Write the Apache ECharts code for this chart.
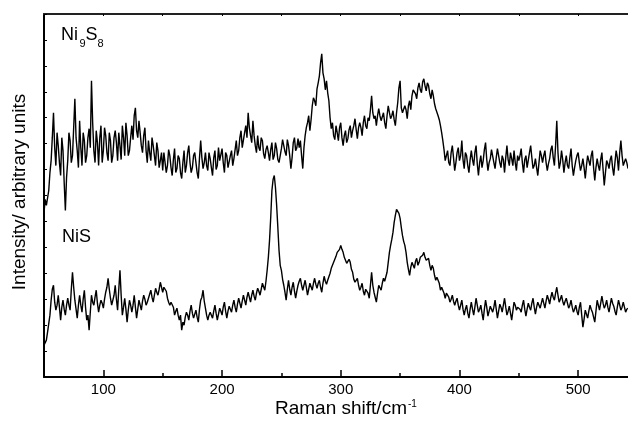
<!DOCTYPE html>
<html><head><meta charset="utf-8">
<script src="https://cdn.jsdelivr.net/npm/echarts@6/dist/echarts.min.js"></script>
<style>html,body{margin:0;padding:0;background:#fff}#c{width:628px;height:424px}</style>
</head><body><div id="c"></div>
<script>
// Raman shift sampling grid (cm^-1): even points start at 50, odd points at 51, both every 2
const shiftStartEven = 50;
const shiftStartOdd = 51;
const shiftStep = 2;
// Ni9S8 intensity (arbitrary units, offset spectrum) at 50,52,...,542
const ni9s8Even = [
165,172,187,217,265,212,232,202,227,167,
217,237,222,279,227,257,212,237,222,249,
297,227,247,212,252,227,242,217,237,222,
247,217,232,252,222,242,227,252,262,247,
257,232,242,227,237,217,232,212,227,217,
207,227,212,222,202,229,209,219,199,227,
212,232,205,222,215,199,237,209,225,207,
219,202,227,212,217,229,205,222,209,227,
219,237,227,247,232,252,265,242,257,232,
242,227,237,219,232,217,235,222,229,215,
229,237,222,232,209,235,227,239,237,209,
242,255,247,272,277,289,302,324,299,297,
277,249,242,252,237,255,232,247,239,252,
247,259,239,255,242,262,249,257,282,259,
252,269,257,265,249,272,259,267,252,275,
297,265,272,259,277,282,289,279,295,285,
299,287,292,279,282,269,262,252,237,217,
227,212,232,207,225,217,237,209,222,205,
227,212,232,202,222,217,235,207,219,227,
209,229,215,222,205,232,212,219,227,207,
217,229,205,222,212,232,209,219,202,227,
215,227,207,219,232,212,257,209,227,205,
222,209,229,202,217,225,207,219,199,222,
212,227,197,219,207,225,192,217,209,222,
202,227,207,237,212,219,209
];
// Ni9S8 at 51,53,...,541
const ni9s8Odd = [
178,170,205,240,230,245,215,240,195,200,
245,215,250,240,210,230,245,215,240,230,
255,215,235,240,215,250,225,245,215,240,
235,245,218,240,255,222,240,238,270,240,
245,225,250,215,225,240,222,235,210,225,
225,205,228,210,218,205,222,205,215,205,
225,215,210,225,205,220,220,215,212,225,
210,220,208,230,215,215,225,210,222,212,
228,222,240,230,245,240,250,235,242,225,
230,240,224,228,225,228,218,235,218,222,
238,226,238,222,220,240,230,230,222,230,
250,262,258,280,272,295,315,305,288,285,
260,255,238,245,250,240,242,235,248,240,
252,248,250,250,255,252,260,268,265,262,
262,262,258,255,262,265,262,258,265,290,
270,265,268,272,268,288,284,290,288,296,
292,295,284,288,274,270,258,245,228,222,
215,225,220,215,230,222,218,225,212,218,
218,225,214,215,210,228,218,215,228,215,
220,222,210,218,220,218,225,212,215,222,
222,215,218,210,225,220,212,210,215,222,
222,215,214,228,220,232,225,215,218,215,
212,220,212,210,222,215,212,210,212,220,
222,210,210,212,218,208,205,214,218,210,
215,220,225,222,210,215
];
// NiS intensity at 50,52,...,542
const nisEven = [
32,37,47,77,92,67,82,57,77,62,
79,67,105,77,59,82,65,87,57,47,
82,72,87,65,77,69,85,99,79,72,
92,67,107,62,79,55,77,65,82,59,
77,67,82,72,79,87,75,89,82,95,
85,92,79,72,77,62,69,57,47,52,
65,57,72,59,67,55,77,87,69,57,
65,59,72,57,69,62,75,59,71,65,
77,65,79,69,82,72,85,75,87,77,
89,82,94,87,107,137,187,202,172,127,
107,92,77,97,82,95,79,92,99,87,
97,82,94,87,99,89,97,85,101,93,
99,109,115,121,127,132,125,119,112,115,
105,95,99,87,94,82,90,79,105,85,
75,92,87,99,95,115,132,145,162,169,
159,142,132,115,102,115,109,119,115,122,
125,117,119,107,109,97,101,87,92,79,
85,75,82,72,79,67,77,62,72,59,
75,62,79,65,72,57,77,61,71,65,
77,59,73,65,79,62,71,57,75,67,
72,65,77,61,74,67,79,63,75,69,
79,69,82,73,85,77,90,75,82,72,
79,69,77,65,72,62,75,50,67,59,
72,65,55,77,67,81,69,77,65,79,
71,62,77,67,75,65,69
];
// NiS at 51,53,...,541
const nisOdd = [
30,45,62,88,75,72,70,70,68,72,
72,88,90,68,72,72,78,70,62,65,
75,80,74,72,74,78,90,88,72,82,
78,88,82,70,68,67,72,72,70,68,
72,76,78,75,83,80,82,85,88,90,
90,86,75,75,70,66,62,62,55,60,
62,66,64,63,60,68,80,76,62,62,
62,66,64,63,66,70,66,66,68,72,
70,73,74,76,77,80,80,82,81,84,
86,88,92,96,120,160,198,190,150,112,
98,85,88,88,90,86,86,96,92,92,
90,88,92,94,93,94,90,94,96,97,
104,112,118,125,128,128,120,114,118,108,
98,96,92,90,86,88,84,92,92,80,
84,90,94,96,105,125,138,155,168,164,
150,136,125,108,110,112,116,112,120,122,
120,115,112,112,102,100,94,90,84,84,
80,78,76,76,72,72,68,68,64,68,
68,70,72,68,64,68,70,66,68,70,
68,66,70,72,70,66,64,66,72,70,
68,72,68,68,70,74,70,70,72,74,
74,76,78,80,80,84,82,78,76,76,
74,72,70,68,66,70,62,58,63,66,
68,60,66,72,74,74,72,70,72,74,
66,70,72,70,70,68
];
const xTickLabels = [100, 200, 300, 400, 500];
const xMinorTicks = [150, 250, 350, 450];
const xTopTicks = [100, 150, 200, 250, 300, 350, 400, 450, 500];
const xMin = 50, xMax = 542;

function merge(evenArr, oddArr) {
  const pts = evenArr.map((v, i) => [shiftStartEven + i * shiftStep, v])
    .concat(oddArr.map((v, i) => [shiftStartOdd + i * shiftStep, v]));
  pts.sort((a, b) => a[0] - b[0]);
  return pts;
}
const FONT = '"Liberation Sans", Arial, sans-serif';

const chart = echarts.init(document.getElementById('c'), null, {renderer: 'canvas'});
chart.setOption({
  animation: false,
  backgroundColor: '#fff',
  grid: {left: 44, right: 0, top: 14, bottom: 47},
  xAxis: [
    {type: 'value', min: xMin, max: xMax, position: 'bottom',
     axisLine: {show: true, lineStyle: {color: '#000', width: 2}},
     axisTick: {show: true, inside: true, length: 7, customValues: xTickLabels, lineStyle: {color: '#000', width: 1.5}},
     axisLabel: {show: true, customValues: xTickLabels, color: '#000', fontSize: 15, fontFamily: FONT, margin: 5},
     splitLine: {show: false}},
    {type: 'value', min: xMin, max: xMax, position: 'bottom',
     axisLine: {show: false},
     axisTick: {show: true, inside: true, length: 4, customValues: xMinorTicks, lineStyle: {color: '#000', width: 1.5}},
     axisLabel: {show: false}, splitLine: {show: false}},
    {type: 'value', min: xMin, max: xMax, position: 'top',
     axisLine: {show: true, lineStyle: {color: '#222', width: 2}},
     axisTick: {show: true, inside: true, length: 2, customValues: xTopTicks, lineStyle: {color: '#000', width: 1}},
     axisLabel: {show: false}, splitLine: {show: false}}
  ],
  yAxis: {type: 'value', min: 0, max: 364, interval: 26,
    axisLine: {show: true, lineStyle: {color: '#000', width: 2}},
    axisTick: {show: true, inside: true, length: 3, lineStyle: {color: '#000', width: 1}},
    axisLabel: {show: false}, splitLine: {show: false}},
  series: [
    {type: 'line', name: 'Ni9S8', data: merge(ni9s8Even, ni9s8Odd), showSymbol: false, symbol: 'none',
     lineStyle: {color: '#000', width: 1.4}, xAxisIndex: 0},
    {type: 'line', name: 'NiS', data: merge(nisEven, nisOdd), showSymbol: false, symbol: 'none',
     lineStyle: {color: '#000', width: 1.4}, xAxisIndex: 0}
  ],
  graphic: [
    {type: 'text', x: 61, y: 35.5, style: {text: 'Ni', font: '18px ' + FONT, fill: '#000', verticalAlign: 'middle'}},
    {type: 'text', x: 79.5, y: 43.5, style: {text: '9', font: '11px ' + FONT, fill: '#000', verticalAlign: 'middle'}},
    {type: 'text', x: 85.5, y: 35.5, style: {text: 'S', font: '18px ' + FONT, fill: '#000', verticalAlign: 'middle'}},
    {type: 'text', x: 97.5, y: 43.5, style: {text: '8', font: '11px ' + FONT, fill: '#000', verticalAlign: 'middle'}},
    {type: 'text', x: 62, y: 237, style: {text: 'NiS', font: '18px ' + FONT, fill: '#000', verticalAlign: 'middle'}},
    {type: 'text', x: 275, y: 408.5, style: {text: 'Raman shift/cm', font: '19px ' + FONT, fill: '#000', verticalAlign: 'middle'}},
    {type: 'text', x: 408, y: 404, style: {text: '-1', font: '10px ' + FONT, fill: '#000', verticalAlign: 'middle'}},
    {type: 'text', x: 20, y: 192, rotation: Math.PI / 2,
     style: {text: 'Intensity/ arbitrary units', font: '19px ' + FONT, fill: '#000', align: 'center', verticalAlign: 'middle'}}
  ]
});
</script>
</body></html>
